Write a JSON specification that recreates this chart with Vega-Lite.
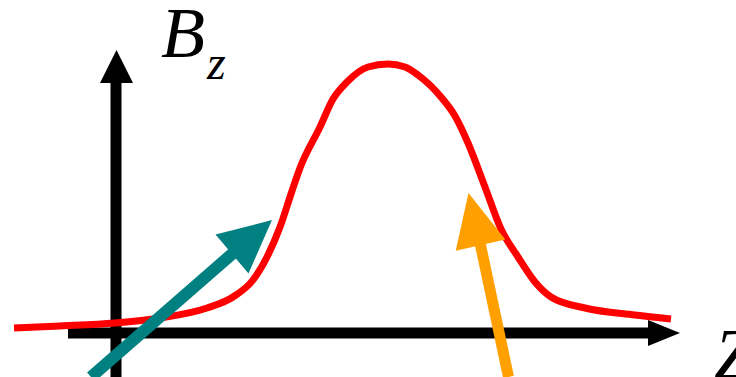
{
  "$schema": "https://vega.github.io/schema/vega-lite/v6.json",
  "width": 736,
  "height": 377,
  "autosize": {"type": "fit", "contains": "padding"},
  "padding": 0,
  "background": "white",
  "config": {"view": {"stroke": null}},
  "datasets": {
    "axes": [
      {"name": "vertical", "x": 116, "y": 377, "x2": 116, "y2": 80},
      {"name": "horizontal", "x": 68, "y": 333, "x2": 652, "y2": 333}
    ],
    "vhead": [{"x": 116.5, "y": 66.5}],
    "hhead": [{"x": 664, "y": 333}],
    "curve": [
      {"x": 14, "y": 328}, {"x": 60, "y": 326}, {"x": 115, "y": 323}, {"x": 160, "y": 318},
      {"x": 207, "y": 308}, {"x": 233, "y": 297}, {"x": 253, "y": 280}, {"x": 267, "y": 257},
      {"x": 280, "y": 227}, {"x": 292, "y": 191}, {"x": 300, "y": 168}, {"x": 320, "y": 127},
      {"x": 333, "y": 99}, {"x": 347, "y": 82}, {"x": 368, "y": 67}, {"x": 388, "y": 64},
      {"x": 405, "y": 67}, {"x": 418, "y": 75}, {"x": 441, "y": 97}, {"x": 455, "y": 116},
      {"x": 468, "y": 143}, {"x": 485, "y": 187}, {"x": 501, "y": 229}, {"x": 518, "y": 257},
      {"x": 535, "y": 282}, {"x": 551, "y": 297}, {"x": 585, "y": 308}, {"x": 635, "y": 315},
      {"x": 671, "y": 319}
    ],
    "tealShaft": [{"x": 91, "y": 377, "x2": 240, "y2": 247}],
    "tealHead": [{"x": 252, "y": 237}],
    "orangeShaft": [{"x": 508.5, "y": 377, "x2": 479, "y2": 238}],
    "orangeHead": [{"x": 474.5, "y": 219}],
    "labelB": [{"text": "B", "x": 161, "y": 57}],
    "labelSub": [{"text": "z", "x": 207, "y": 79}],
    "labelZ": [{"text": "Z", "x": 714, "y": 378}]
  },
  "layer": [
    {
      "data": {"name": "axes"},
      "mark": {"type": "rule", "color": "black", "strokeWidth": 11, "strokeCap": "butt", "clip": true},
      "encoding": {
        "x": {"field": "x", "type": "quantitative", "scale": {"domain": [0, 736], "nice": false, "zero": false}, "axis": null},
        "y": {"field": "y", "type": "quantitative", "scale": {"domain": [377, 0], "nice": false, "zero": false}, "axis": null},
        "x2": {"field": "x2"},
        "y2": {"field": "y2"}
      }
    },
    {
      "data": {"name": "vhead"},
      "mark": {"type": "point", "shape": "M0,-1L1,1L-1,1Z", "filled": true, "opacity": 1, "color": "black", "strokeWidth": 0, "size": 1089, "angle": 0, "clip": true},
      "encoding": {
        "x": {"field": "x", "type": "quantitative", "scale": {"domain": [0, 736], "nice": false, "zero": false}, "axis": null},
        "y": {"field": "y", "type": "quantitative", "scale": {"domain": [377, 0], "nice": false, "zero": false}, "axis": null}
      }
    },
    {
      "data": {"name": "hhead"},
      "mark": {"type": "point", "shape": "M0,-1L0.81,1L-0.81,1Z", "filled": true, "opacity": 1, "color": "black", "strokeWidth": 0, "size": 1024, "angle": 90, "clip": true},
      "encoding": {
        "x": {"field": "x", "type": "quantitative", "scale": {"domain": [0, 736], "nice": false, "zero": false}, "axis": null},
        "y": {"field": "y", "type": "quantitative", "scale": {"domain": [377, 0], "nice": false, "zero": false}, "axis": null}
      }
    },
    {
      "data": {"name": "curve"},
      "mark": {"type": "line", "color": "#FF0000", "strokeWidth": 7, "interpolate": "monotone", "strokeCap": "butt", "clip": true},
      "encoding": {
        "x": {"field": "x", "type": "quantitative", "scale": {"domain": [0, 736], "nice": false, "zero": false}, "axis": null},
        "y": {"field": "y", "type": "quantitative", "scale": {"domain": [377, 0], "nice": false, "zero": false}, "axis": null}
      }
    },
    {
      "data": {"name": "tealShaft"},
      "mark": {"type": "rule", "color": "#008080", "strokeWidth": 12, "strokeCap": "butt", "clip": true},
      "encoding": {
        "x": {"field": "x", "type": "quantitative", "scale": {"domain": [0, 736], "nice": false, "zero": false}, "axis": null},
        "y": {"field": "y", "type": "quantitative", "scale": {"domain": [377, 0], "nice": false, "zero": false}, "axis": null},
        "x2": {"field": "x2"},
        "y2": {"field": "y2"}
      }
    },
    {
      "data": {"name": "tealHead"},
      "mark": {"type": "point", "shape": "M0,-1L0.97,1L-0.97,1Z", "filled": true, "opacity": 1, "color": "#008080", "strokeWidth": 0, "size": 2756, "angle": 49.6, "clip": true},
      "encoding": {
        "x": {"field": "x", "type": "quantitative", "scale": {"domain": [0, 736], "nice": false, "zero": false}, "axis": null},
        "y": {"field": "y", "type": "quantitative", "scale": {"domain": [377, 0], "nice": false, "zero": false}, "axis": null}
      }
    },
    {
      "data": {"name": "orangeShaft"},
      "mark": {"type": "rule", "color": "#FFA000", "strokeWidth": 11, "strokeCap": "butt", "clip": true},
      "encoding": {
        "x": {"field": "x", "type": "quantitative", "scale": {"domain": [0, 736], "nice": false, "zero": false}, "axis": null},
        "y": {"field": "y", "type": "quantitative", "scale": {"domain": [377, 0], "nice": false, "zero": false}, "axis": null},
        "x2": {"field": "x2"},
        "y2": {"field": "y2"}
      }
    },
    {
      "data": {"name": "orangeHead"},
      "mark": {"type": "point", "shape": "M0,-1L0.95,1L-0.95,1Z", "filled": true, "opacity": 1, "color": "#FFA000", "strokeWidth": 0, "size": 2873, "angle": -13, "clip": true},
      "encoding": {
        "x": {"field": "x", "type": "quantitative", "scale": {"domain": [0, 736], "nice": false, "zero": false}, "axis": null},
        "y": {"field": "y", "type": "quantitative", "scale": {"domain": [377, 0], "nice": false, "zero": false}, "axis": null}
      }
    },
    {
      "data": {"name": "labelB"},
      "mark": {"type": "text", "font": "Liberation Serif", "fontStyle": "italic", "fontSize": 72, "align": "left", "baseline": "alphabetic", "color": "black", "clip": true},
      "encoding": {
        "x": {"field": "x", "type": "quantitative", "scale": {"domain": [0, 736], "nice": false, "zero": false}, "axis": null},
        "y": {"field": "y", "type": "quantitative", "scale": {"domain": [377, 0], "nice": false, "zero": false}, "axis": null},
        "text": {"field": "text"}
      }
    },
    {
      "data": {"name": "labelSub"},
      "mark": {"type": "text", "font": "Liberation Serif", "fontStyle": "italic", "fontSize": 48, "align": "left", "baseline": "alphabetic", "color": "black", "clip": true},
      "encoding": {
        "x": {"field": "x", "type": "quantitative", "scale": {"domain": [0, 736], "nice": false, "zero": false}, "axis": null},
        "y": {"field": "y", "type": "quantitative", "scale": {"domain": [377, 0], "nice": false, "zero": false}, "axis": null},
        "text": {"field": "text"}
      }
    },
    {
      "data": {"name": "labelZ"},
      "mark": {"type": "text", "font": "Liberation Serif", "fontStyle": "italic", "fontSize": 72, "align": "left", "baseline": "alphabetic", "color": "black", "clip": true},
      "encoding": {
        "x": {"field": "x", "type": "quantitative", "scale": {"domain": [0, 736], "nice": false, "zero": false}, "axis": null},
        "y": {"field": "y", "type": "quantitative", "scale": {"domain": [377, 0], "nice": false, "zero": false}, "axis": null},
        "text": {"field": "text"}
      }
    }
  ]
}
